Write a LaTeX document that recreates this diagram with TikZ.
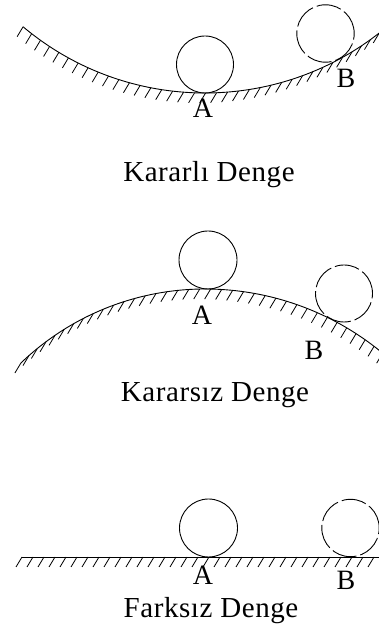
\documentclass[tikz,border=0pt]{standalone}
\usepackage{fontspec}
\setmainfont{Liberation Serif}
\usetikzlibrary{decorations.markings}

\tikzset{
  ground/.style={line width=0.9pt, postaction={decorate, decoration={markings,
      mark=between positions 0 and 1 step 11pt with {\pgftransformresetnontranslations
        \draw[line width=0.8pt] (0,0) -- (-6pt,-10pt);}}}},
  ball/.style={line width=0.9pt},
  ballB/.style={ball, dash pattern=on 25pt off 4pt},
  lbl/.style={font=\fontsize{28}{32}\selectfont, anchor=base, inner sep=0pt},
  title/.style={font=\fontsize{29}{34}\selectfont\addfontfeature{LetterSpace=2},
      anchor=base, inner sep=0pt}
}

\begin{document}
\begin{tikzpicture}[x=1pt,y=1pt]
    \useasboundingbox (0,0) rectangle (379,629);

    % Stable equilibrium
    \draw[ground] (205,819) ++(230:283) arc[start angle=230, end angle=310, radius=283];
    \draw[ball] (205,564.5) circle[radius=28.5];
    \draw[ballB] (325.5,595.5) circle[radius=28.7];
    \node[lbl] (stableA) at (203,511) {A};
    \node[lbl] (stableB) at (346,541) {B};
    \node[title] (stable) at (209,447) {Kararlı Denge};

    % Unstable equilibrium
    \draw[ground] (205,74) ++(133.8:266) arc[start angle=133.8, end angle=90, radius=266]
        arc[start angle=90, end angle=50, radius=278];
    \draw[ball] (208,369) circle[radius=29];
    \draw[ballB] (344,335.5) circle[radius=28.5];
    \node[lbl] (unstableA) at (202,304) {A};
    \node[lbl] (unstableB) at (314,269) {B};
    \node[title] (unstable) at (215,227) {Kararsız Denge};

    % Neutral equilibrium
    \draw[ground] (22,72) -- (382,72);
    \draw[ball] (208.5,101) circle[radius=29];
    \draw[ballB] (350.5,101) circle[radius=28.7];
    \node[lbl] (neutralA) at (203,44) {A};
    \node[lbl] (neutralB) at (346,39) {B};
    \node[title] (neutral) at (211,11) {Farksız Denge};
\end{tikzpicture}
\end{document}
